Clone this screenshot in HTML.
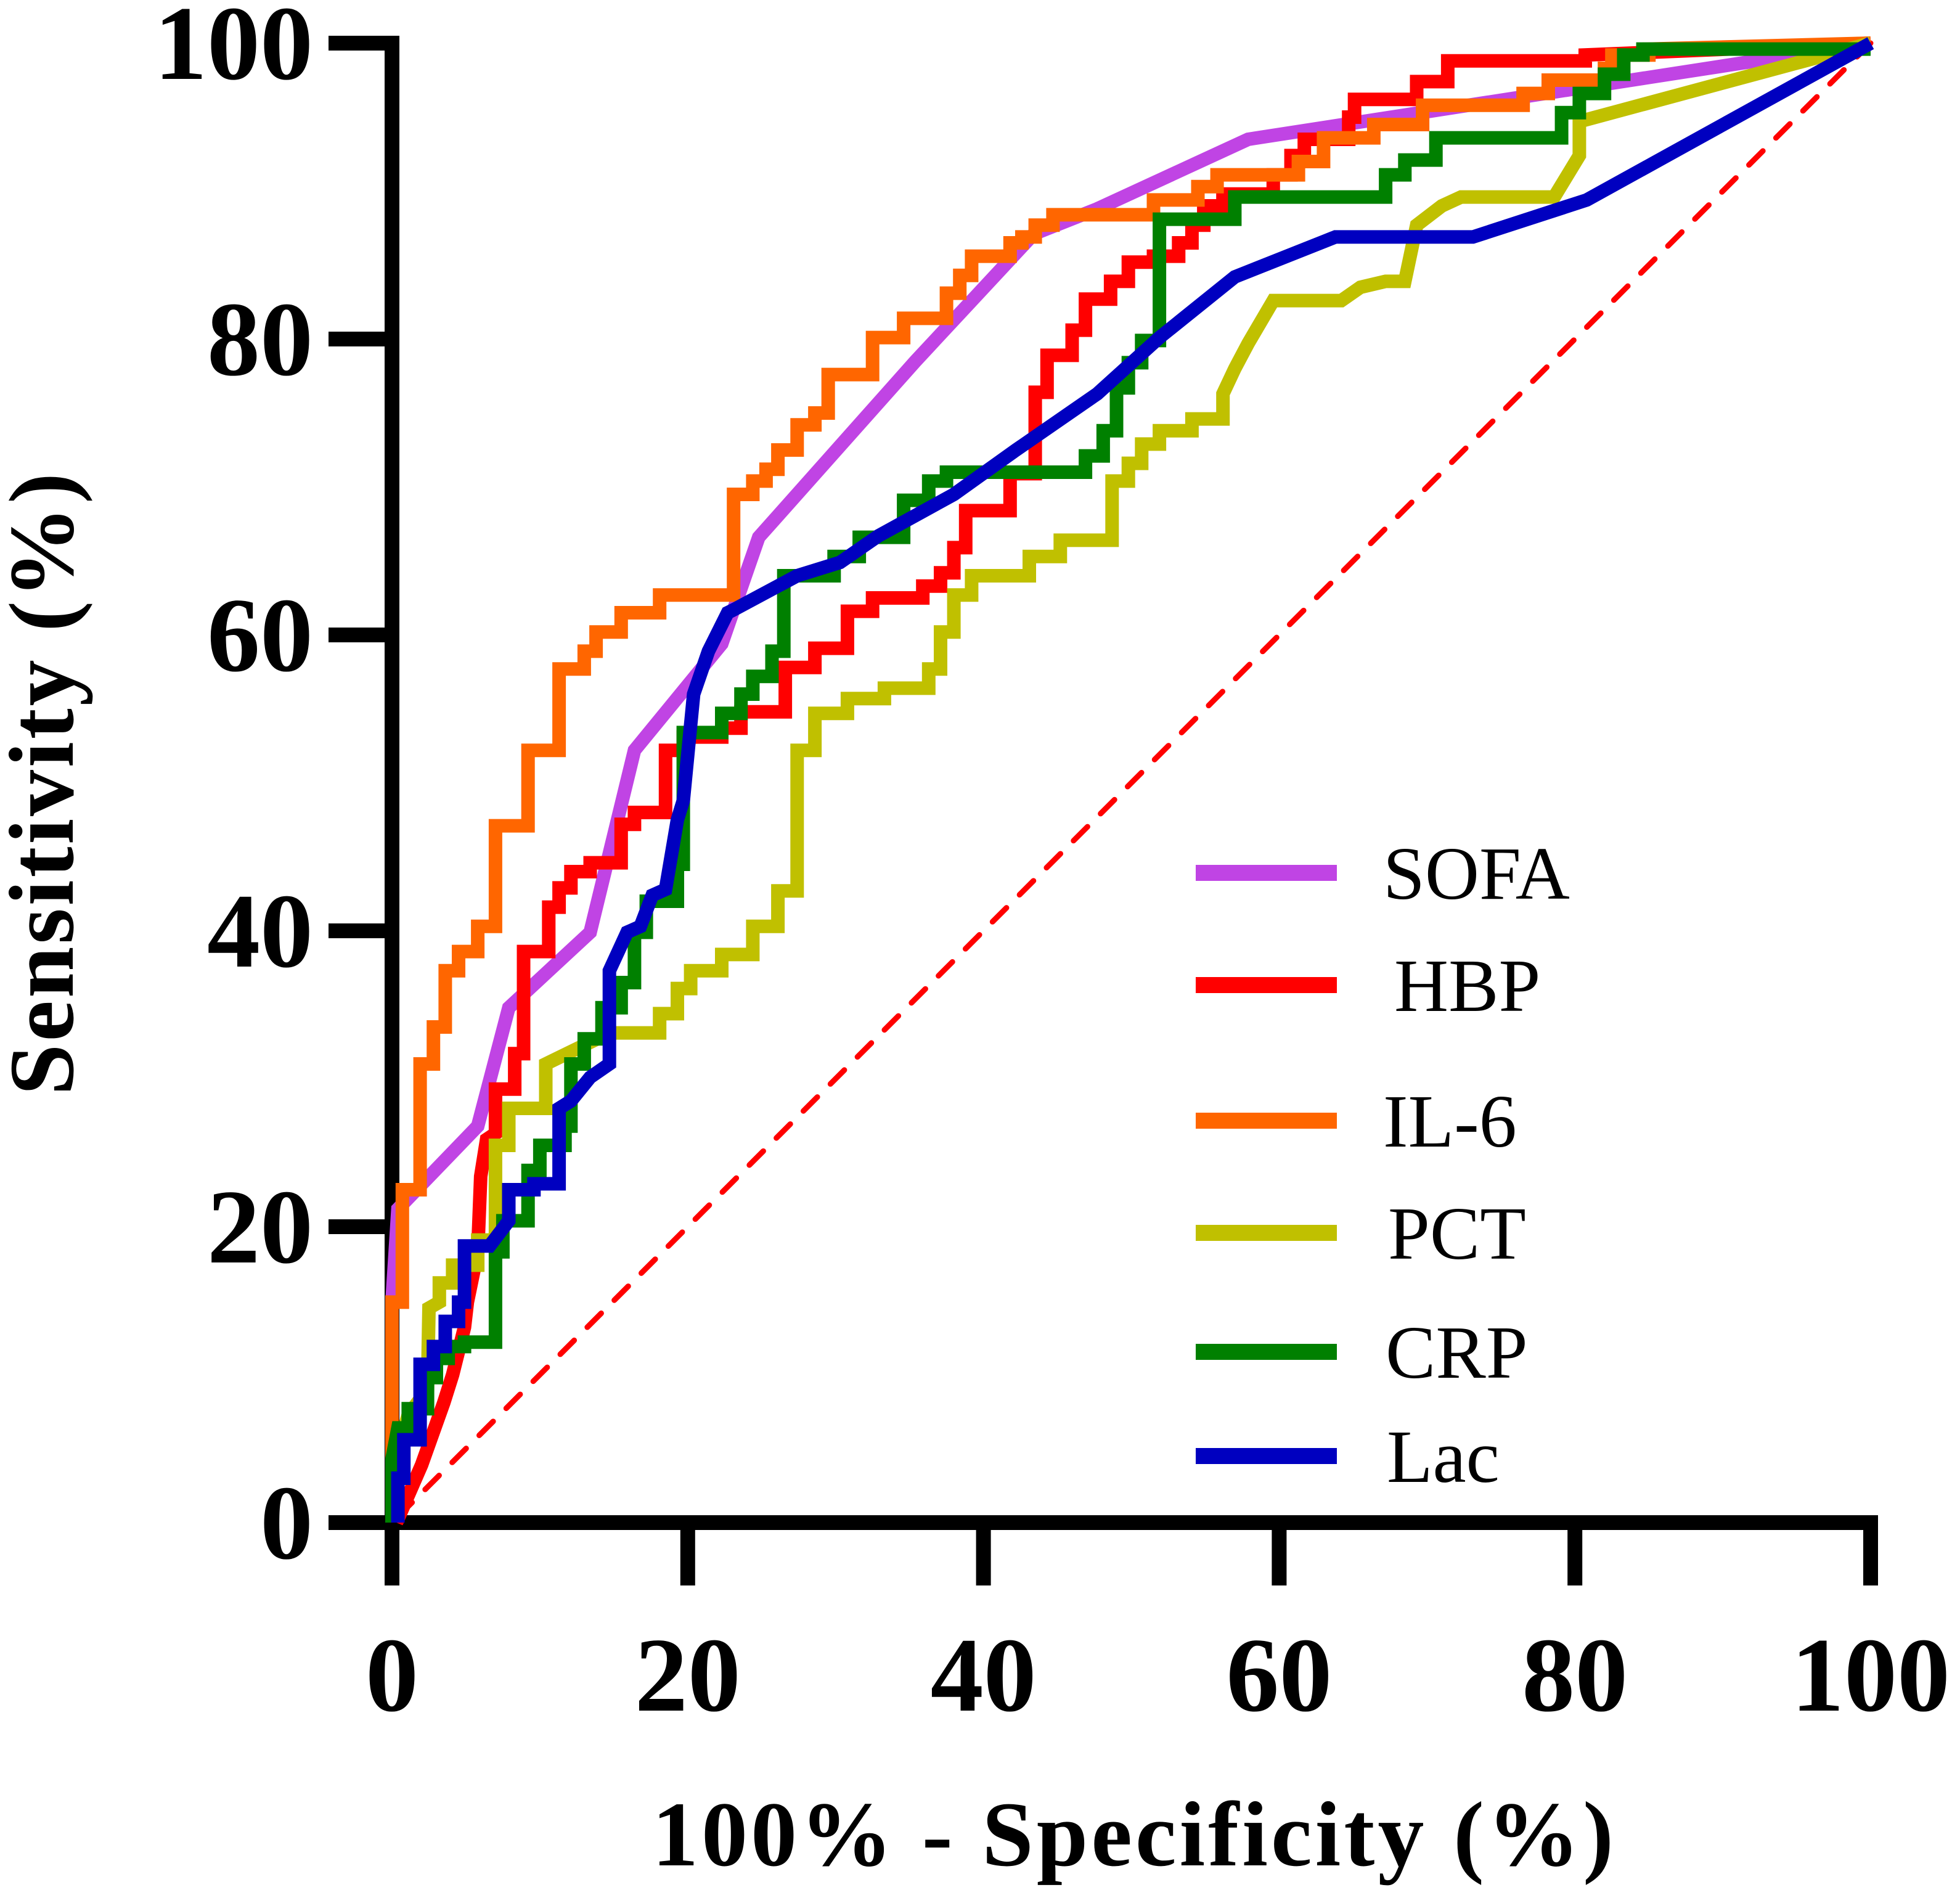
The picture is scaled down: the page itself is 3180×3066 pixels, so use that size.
<!DOCTYPE html>
<html><head><meta charset="utf-8"><style>
html,body{margin:0;padding:0;background:#fff}
svg{display:block}
text{font-family:"Liberation Serif",serif}
</style></head><body>
<svg id="chart" width="3180" height="3066" viewBox="0 0 3180 3066" xmlns="http://www.w3.org/2000/svg">
<g id="axes"></g>
<g id="series"></g>
<g id="legend"></g>
<text x="1838" y="3026" text-anchor="middle" font-size="150" font-weight="bold" textLength="1560" lengthAdjust="spacing">100% - Specificity (%)</text>
<text transform="translate(118,1272) rotate(-90)" text-anchor="middle" font-size="150" font-weight="bold" textLength="1010" lengthAdjust="spacing">Sensitivity (%)</text>
</svg>
<script>
const xTicks=[0,20,40,60,80,100];
const yTicks=[0,20,40,60,80,100];
const seriesNames=["SOFA","HBP","IL-6","PCT","CRP","Lac"];
const seriesColors=["#c044e4","#ff0000","#ff6600","#c0c000","#008000","#0000c0"];
const sofaX=[0,0.4,5.8,7.9,13.4,16.4,22.3,24.8,35.4,43.4,47.7,57.9,100];
const sofaY=[14.9,21.2,26.8,34.8,39.9,52.2,59.4,66.6,78.5,87.1,88.8,93.5,100];
const hbpX=[0.3,2.0,3.5,4.1,4.9,5.1,5.8,6.0,6.4,7.0,7.0,8.3,8.3,8.9,8.9,10.6,10.6,11.3,11.3,12.1,12.1,13.4,13.4,15.5,15.5,16.4,16.4,18.5,18.5,19.7,19.7,22.3,22.3,23.6,23.6,26.6,26.6,28.6,28.6,30.8,30.8,32.5,32.5,35.9,35.9,37.1,37.1,38,38,38.8,38.8,41.8,41.8,43.5,43.5,44.3,44.3,46,46,46.9,46.9,48.6,48.6,49.8,49.8,51.5,51.5,53.2,53.2,54.1,54.1,54.9,54.9,56.2,56.2,59.6,59.6,60.8,60.8,61.7,61.7,64.7,64.7,65.1,65.1,69.3,69.3,71.4,71.4,80.7,80.7,100];
const hbpY=[0,3.9,8.1,10,13.2,14.9,18.3,23.4,25.9,26.3,29.3,29.3,31.7,31.7,38.6,38.6,41.6,41.6,42.9,42.9,44,44,44.6,44.6,47.2,47.2,48,48,52.2,52.2,53.1,53.1,53.7,53.7,54.8,54.8,57.8,57.8,59.1,59.1,61.6,61.6,62.5,62.5,63.3,63.3,64.2,64.2,65.9,65.9,68.4,68.4,70.9,70.9,76.4,76.4,78.9,78.9,80.6,80.6,82.7,82.7,83.9,83.9,85.2,85.2,85.6,85.6,86.5,86.5,87.7,87.7,89,89,89.8,89.8,91.1,91.1,92.4,92.4,93.5,93.5,95,95,96.2,96.2,97.4,97.4,98.8,98.8,99.2,100];
const il6X=[0,0,0.7,0.7,1.9,1.9,2.8,2.8,3.6,3.6,4.5,4.5,5.8,5.8,7.0,7.0,9.2,9.2,11.3,11.3,13.0,13.0,13.8,13.8,15.5,15.5,18.1,18.1,23.1,23.1,24.4,24.4,25.3,25.3,26.1,26.1,27.4,27.4,28.6,28.6,29.5,29.5,32.5,32.5,34.6,34.6,37.5,37.5,38.4,38.4,39.2,39.2,41.8,41.8,42.6,42.6,43.5,43.5,44.7,44.7,51.5,51.5,54.5,54.5,55.8,55.8,61.3,61.3,63.0,63.0,66.4,66.4,69.7,69.7,76.5,76.5,78.2,78.2,82.0,82.0,82.5,82.5,85.0,85.0,100];
const il6Y=[0,14.9,14.9,22.5,22.5,31.0,31.0,33.5,33.5,37.3,37.3,38.6,38.6,40.3,40.3,47.1,47.1,52.2,52.2,57.7,57.7,58.9,58.9,60.2,60.2,61.5,61.5,62.7,62.7,69.5,69.5,70.4,70.4,71.2,71.2,72.5,72.5,74.2,74.2,75.0,75.0,77.6,77.6,80.1,80.1,81.4,81.4,83.1,83.1,84.3,84.3,85.6,85.6,86.5,86.5,86.9,86.9,87.7,87.7,88.4,88.4,89.4,89.4,90.3,90.3,91.1,91.1,92.0,92.0,93.6,93.6,94.5,94.5,95.8,95.8,96.6,96.6,97.5,97.5,98.3,98.3,99.2,99.2,99.6,100];
const pctX=[0.1,0.1,1.1,2.4,2.5,3.2,3.2,4.1,4.1,5.8,5.8,7.0,7.0,7.9,7.9,10.4,10.4,14.7,18.1,18.1,19.3,19.3,20.2,20.2,22.3,22.3,24.4,24.4,26.1,26.1,27.4,27.4,28.6,28.6,30.8,30.8,33.3,33.3,36.3,36.3,37.1,37.1,38.0,38.0,39.2,39.2,43.1,43.1,45.2,45.2,48.7,48.7,49.8,49.8,50.7,50.7,51.9,51.9,54.1,54.1,56.2,56.2,57.0,57.9,59.6,64.2,65.5,67.2,68.5,69.3,71.0,72.3,78.6,80.3,80.3,100];
const pctY=[0,3.9,7.3,9.0,14.5,14.9,16.2,16.2,17.4,17.4,19.1,19.1,25.5,25.5,28.0,28.0,31.0,33.1,33.1,34.4,34.4,36.1,36.1,37.3,37.3,38.4,38.4,40.3,40.3,42.7,42.7,52.2,52.2,54.7,54.7,55.7,55.7,56.4,56.4,57.7,57.7,60.2,60.2,62.7,62.7,64.0,64.0,65.3,65.3,66.4,66.4,70.4,70.4,71.6,71.6,72.9,72.9,73.8,73.8,74.6,74.6,76.3,78.0,79.7,82.6,82.6,83.5,83.9,83.9,87.7,89.0,89.6,89.6,92.4,94.7,100];
const crpX=[0,0,0.4,1.1,1.1,2.4,2.4,3.0,3.0,3.8,3.8,4.9,4.9,7.0,7.0,7.5,7.5,9.2,9.2,10.0,10.0,11.7,11.7,12.1,12.1,13.0,13.0,14.2,14.2,15.5,15.5,16.4,16.4,17.2,17.2,19.3,19.3,19.7,19.7,22.3,22.3,23.6,23.6,24.4,24.4,25.7,25.7,26.5,26.5,29.9,29.9,31.6,31.6,34.6,34.6,36.3,36.3,37.5,37.5,46.9,46.9,48.1,48.1,49.0,49.0,49.8,49.8,50.7,50.7,51.9,51.9,57.0,57.0,67.2,67.2,68.5,68.5,70.6,70.6,79.1,79.1,80.3,80.3,82.0,82.0,83.3,83.3,84.6,84.6,100];
const crpY=[0,4.3,6.4,6.4,7.7,7.7,9.8,9.8,11.1,11.1,11.9,11.9,12.2,12.2,18.3,18.3,20.4,20.4,23.8,23.8,25.5,25.5,26.8,26.8,31.0,31.0,32.7,32.7,34.8,34.8,36.5,36.5,39.9,39.9,42.0,42.0,44.5,44.5,53.4,53.4,54.7,54.7,56.0,56.0,57.2,57.2,58.9,58.9,64.0,64.0,65.3,65.3,66.6,66.6,69.1,69.1,70.4,70.4,71.0,71.0,72.1,72.1,73.8,73.8,76.7,76.7,78.4,78.4,79.9,79.9,88.1,88.1,89.6,89.6,91.1,91.1,92.1,92.1,93.6,93.6,95.3,95.3,96.6,96.6,97.9,97.9,99.2,99.2,99.6,99.6,100];
const lacX=[0.4,0.4,0.8,0.8,1.9,1.9,2.8,2.8,3.6,3.6,4.5,4.5,4.9,4.9,6.6,7.9,7.9,9.6,9.6,11.3,11.3,12.1,13.4,14.7,14.7,15.9,16.8,17.6,18.5,19.3,19.7,20.4,21.4,22.7,23.1,27.4,30.3,32.9,38.0,42.2,47.7,51.9,57.0,63.8,73.1,80.8,100];
const lacY=[0,3.0,3.0,5.6,5.6,10.7,10.7,11.9,11.9,13.6,13.6,14.9,14.9,18.7,18.7,20.4,22.5,22.5,22.9,22.9,28.0,28.5,30.1,31.0,37.3,39.9,40.3,42.4,42.8,47.5,48.8,56.0,58.9,61.5,61.7,64.0,64.9,66.7,69.5,72.5,76.3,80.1,84.2,86.9,86.9,89.4,100];
const allX=[sofaX,hbpX,il6X,pctX,crpX,lacX];
const allY=[sofaY,hbpY,il6Y,pctY,crpY,lacY];

const NS="http://www.w3.org/2000/svg";
const X0=636,X1=3035,Y0=2470,Y1=70;
function sx(v){return X0+(X1-X0)*v/100;}
function sy(v){return Y0-(Y0-Y1)*v/100;}
function mk(tag,attrs,parent){const e=document.createElementNS(NS,tag);for(const k in attrs)e.setAttribute(k,attrs[k]);parent.appendChild(e);return e;}
const axes=document.getElementById('axes');
let yl=mk('line',{x1:X0,y1:Y0+12,x2:X0,y2:Y1-12,stroke:'#000','stroke-width':24},axes);


let xl=mk('line',{x1:X0-12,y1:Y0,x2:X1+12,y2:Y0,stroke:'#000','stroke-width':24},axes);


yTicks.forEach(t=>{
  const l=mk('line',{x1:533,y1:sy(t),x2:X0,y2:sy(t),stroke:'#000','stroke-width':24},axes);
  
  
  const tx=mk('text',{x:508,y:sy(t)+58,'text-anchor':'end','font-size':172,'font-weight':'bold'},axes);
  tx.textContent=t;
  
  
});
xTicks.forEach(t=>{
  const l=mk('line',{x1:sx(t),y1:Y0,x2:sx(t),y2:2572,stroke:'#000','stroke-width':24},axes);
  
  
  const tx=mk('text',{x:sx(t),y:2775,'text-anchor':'middle','font-size':172,'font-weight':'bold'},axes);
  tx.textContent=t;
  
  
});
const ser=document.getElementById('series');
const ref=mk('line',{x1:sx(0)+10,y1:sy(0)-10,x2:sx(100),y2:sy(100),stroke:'#ff0000','stroke-width':9,'stroke-dasharray':'32 30','stroke-linecap':'round'},ser);


const order=[0,1,2,3,4,5];
order.forEach(i=>{
  const xs=allX[i],ys=allY[i];
  const pts=xs.map((x,j)=>sx(x).toFixed(1)+','+sy(ys[j]).toFixed(1)).join(' ');
  const p=mk('polyline',{points:pts,fill:'none',stroke:seriesColors[i],'stroke-width':22,'stroke-linejoin':'miter','stroke-linecap':'butt'},ser);
  
  
});
const leg=document.getElementById('legend');
const legY=[1416,1598,1818,2000,2193,2362];
const legTX=[2244,2262,2244,2252,2248,2250];
seriesNames.forEach((n,i)=>{
  const l=mk('line',{x1:1940,y1:legY[i],x2:2169,y2:legY[i],stroke:seriesColors[i],'stroke-width':26},leg);
  
  
  const t=mk('text',{x:legTX[i],y:legY[i]+42,'font-size':122},leg);
  t.textContent=n;
  
  
});
</script>
</body></html>
